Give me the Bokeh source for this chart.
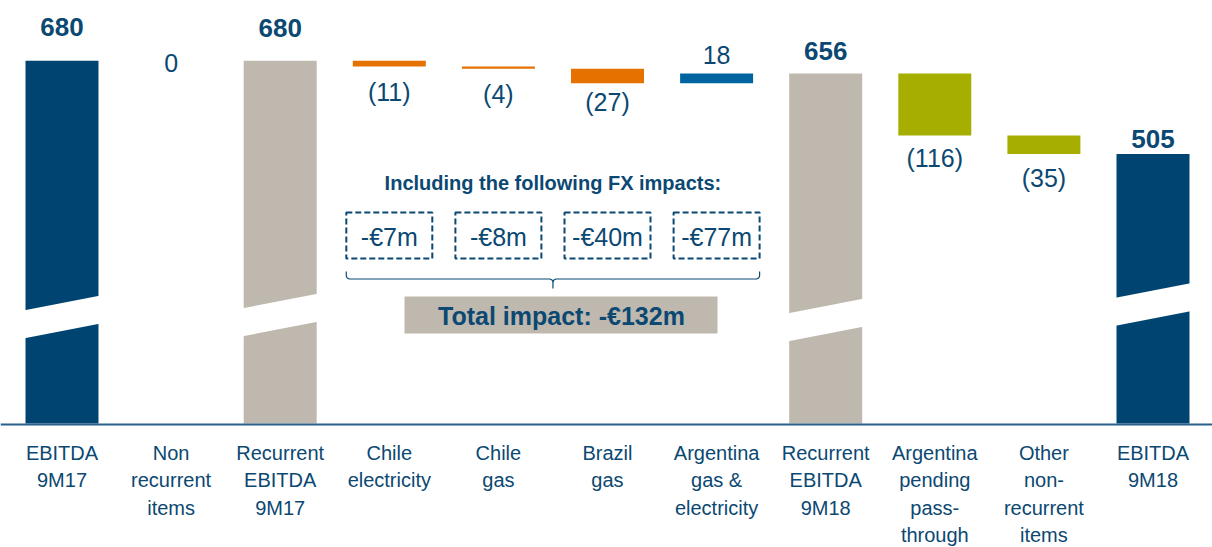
from bokeh.plotting import figure
from bokeh.models import Range1d, Span, ColumnDataSource
from bokeh.core.properties import value
from bokeh.embed import file_html
from bokeh.resources import INLINE

# ---------------- data ----------------
categories = [
    "EBITDA\n9M17", "Non\nrecurrent\nitems", "Recurrent\nEBITDA\n9M17",
    "Chile\nelectricity", "Chile\ngas", "Brazil\ngas",
    "Argentina\ngas &\nelectricity", "Recurrent\nEBITDA\n9M18",
    "Argentina\npending\npass-\nthrough", "Other\nnon-\nrecurrent\nitems",
    "EBITDA\n9M18",
]
values = [680, 0, 680, -11, -4, -27, 18, 656, -116, -35, 505]
is_total = [True, False, True, False, False, False, False, True, False, False, True]
fx_labels = ["-€7m", "-€8m", "-€40m", "-€77m"]
fx_header = "Including the following FX impacts:"
fx_total_label = "Total impact: -€132m"

# ---------------- styles ----------------
NAVY = "#004571"
GREY = "#bfb8ae"
ORANGE = "#e57200"
LBLUE = "#0064a0"
OLIVE = "#a6ae00"
TXT = "#0b4872"
bar_colors = [NAVY, NAVY, GREY, ORANGE, ORANGE, ORANGE, LBLUE, GREY, OLIVE, OLIVE, NAVY]
label_dy = [-34, 2, -33, 25, 25.5, 19, -19, -23, 23, 23.5, -15]   # px offsets of value labels
break_mid = {0: 199.6, 2: 203.4, 7: 194.0, 10: 223.0}            # decorative axis-break centres
FONT = "Liberation Sans"
W, H = 1212, 547
ZERO_PX = 423  # pixel row of value 0
X0_PX = 61.5   # pixel column of first category
PXU = 0.5335   # px per value unit
PXX = 109.1    # px per category step
BW = 0.669     # bar width (category units)

# ---------------- waterfall geometry ----------------
xs, bottoms, tops, cols = [], [], [], []
lab_x, lab_y, lab_t, lab_off, lab_bold = [], [], [], [], []
running = 0
for i, (v, tot) in enumerate(zip(values, is_total)):
    if tot:
        b, t = 0, v
        running = v
    else:
        b, t = running, running + v
        running = t
    if t != b:
        xs.append(i); bottoms.append(min(b, t)); tops.append(max(b, t)); cols.append(bar_colors[i])
    if tot:
        txt, anchor = str(v), t
    elif v < 0:
        txt, anchor = "(%d)" % (-v), min(b, t)
    else:
        txt, anchor = str(v), max(b, t)
    lab_x.append(i); lab_y.append(anchor); lab_t.append(txt); lab_off.append(label_dy[i]); lab_bold.append(tot)

p = figure(width=W, height=H,
           x_range=Range1d(-X0_PX / PXX, (W - X0_PX) / PXX),
           y_range=Range1d((ZERO_PX - H) / PXU, ZERO_PX / PXU),
           x_axis_type=None, y_axis_type=None,
           output_backend="svg", toolbar_location=None, min_border=0)
p.grid.visible = False
p.outline_line_color = None
p.background_fill_color = "white"

p.vbar(x=xs, width=BW, bottom=bottoms, top=tops, fill_color=cols, line_color=None)

# decorative break bands on total bars
h = 14 / PXU
tl = 7.5 / PXU
bxs, bys = [], []
for i, m in break_mid.items():
    l, r = i - BW / 2 - 0.02, i + BW / 2 + 0.02
    bxs.append([l, r, r, l])
    bys.append([m - tl - h, m + tl - h, m + tl + h, m - tl + h])
p.patches(bxs, bys, fill_color="white", line_color=None)

# baseline
p.add_layout(Span(location=-1.9, dimension="width", line_color="#26608e", line_width=2))

# value labels
for bold in (True, False):
    idx = [k for k in range(len(lab_x)) if lab_bold[k] == bold]
    src = ColumnDataSource(dict(x=[lab_x[k] for k in idx], y=[lab_y[k] for k in idx],
                                t=[lab_t[k] for k in idx], o=[lab_off[k] for k in idx]))
    p.text(x="x", y="y", text="t", y_offset="o", source=src,
           text_align="center", text_baseline="middle", text_color=TXT,
           text_font=value(FONT), text_font_size="26px" if bold else "25px",
           text_font_style="bold" if bold else "normal")

# category labels
p.text(x=list(range(len(categories))), y=[0] * len(categories), text=categories,
       y_offset=18, text_align="center", text_baseline="top", text_color=TXT,
       text_font=value(FONT), text_font_size="20px", text_line_height=1.25)

# FX annotation
yy = lambda ry: (ZERO_PX - ry) / PXU
p.text(x=[4.5], y=[yy(182)], text=[fx_header], text_align="center",
       text_baseline="middle", text_color=TXT, text_font=value(FONT),
       text_font_size="20px", text_font_style="bold")
box_y = yy(235)
fx_x = [3, 4, 5, 6]
p.rect(x=fx_x, y=[box_y] * 4, width=86, height=46, width_units="screen", height_units="screen",
       fill_color=None, line_color=TXT, line_width=2, line_dash="6 3")
p.text(x=fx_x, y=[box_y] * 4, text=fx_labels, y_offset=1, text_align="center",
       text_baseline="middle", text_color=TXT, text_font=value(FONT), text_font_size="25px")

# brace
L = 3 - 43 / PXX
R = 6 + 43 / PXX
C = 4.5
d = 3 / PXX
left_half = ([L, L, L + d * 0.3, L + d, C - d, C - d * 0.3, C, C],
             [yy(271), yy(275.5), yy(277.5), yy(278.5), yy(278.5), yy(279.5), yy(281.5), yy(288)])
right_half = ([R, R, R - d * 0.3, R - d, C + d, C + d * 0.3, C],
              [yy(271), yy(275.5), yy(277.5), yy(278.5), yy(278.5), yy(279.5), yy(281.5)])
p.multi_line([left_half[0], right_half[0]], [left_half[1], right_half[1]],
             line_color=TXT, line_width=1.2)

# total impact box
p.rect(x=[4.574], y=[yy(314.5)], width=313, height=37, width_units="screen",
       height_units="screen", fill_color=GREY, line_color=None)
p.text(x=[4.578], y=[yy(314.5)], text=[fx_total_label], y_offset=1,
       text_align="center", text_baseline="middle", text_color=TXT, text_font=value(FONT),
       text_font_size="25px", text_font_style="bold")

open("out.html", "w").write(file_html(p, INLINE))
